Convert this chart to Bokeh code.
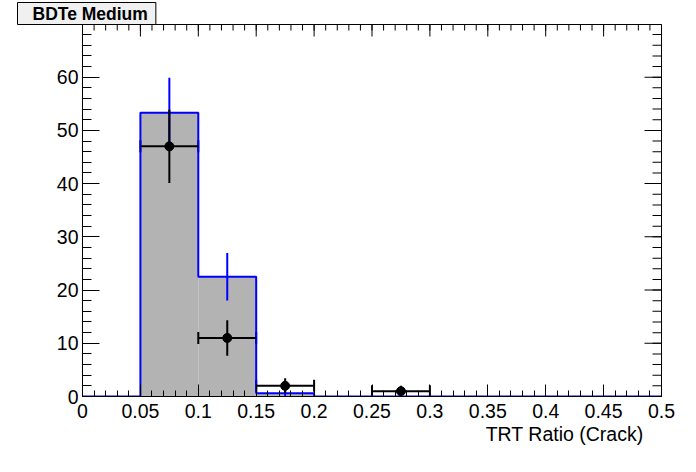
from bokeh.plotting import figure
from bokeh.models import Range1d, FixedTicker, Title
from bokeh.embed import file_html
from bokeh.resources import INLINE

# ---- data ----
bin_edges = [0.0, 0.05, 0.1, 0.15, 0.2, 0.25, 0.3, 0.35, 0.4, 0.45, 0.5]
mc_values = [0.0, 53.3, 22.5, 0.6, 0.0, 0.0, 0.0, 0.0, 0.0, 0.0]
mc_errors = [0.0, 6.6, 4.45, 0.5, 0.0, 0.0, 0.0, 0.0, 0.0, 0.0]
data_counts = [0, 47, 11, 2, 0, 1, 0, 0, 0, 0]
data_errors = [0.0, 6.86, 3.32, 1.41, 0.0, 1.0, 0.0, 0.0, 0.0, 0.0]

x_ticks = [0.0, 0.05, 0.1, 0.15, 0.2, 0.25, 0.3, 0.35, 0.4, 0.45, 0.5]
x_tick_labels = ["0", "0.05", "0.1", "0.15", "0.2", "0.25", "0.3", "0.35", "0.4", "0.45", "0.5"]
y_ticks = [0, 10, 20, 30, 40, 50, 60]
y_tick_labels = ["0", "10", "20", "30", "40", "50", "60"]
x_minor = [i / 100 for i in range(0, 51)]
y_minor = list(range(0, 71, 2))

title_text = "BDTe Medium"
x_title = "TRT Ratio (Crack)"

FONT = "Liberation Sans"
X0, X1, Y0, Y1 = 0.0, 0.5, 0.0, 69.9

p = figure(width=680, height=456,
           x_range=Range1d(X0, X1), y_range=Range1d(Y0, Y1),
           output_backend="svg", toolbar_location=None,
           min_border_left=82, min_border_right=19,
           min_border_top=23, min_border_bottom=60,
           background_fill_color="white", border_fill_color="white",
           outline_line_color="black", outline_line_width=1)
p.xgrid.visible = False
p.ygrid.visible = False


def style_axis(ax, ticks, minor, major_len, minor_len, overrides):
    ax.ticker = FixedTicker(ticks=ticks, minor_ticks=minor)
    ax.major_tick_in = major_len
    ax.major_tick_out = 0
    ax.minor_tick_in = minor_len
    ax.minor_tick_out = 0
    ax.axis_line_color = "black"
    ax.major_tick_line_color = "black"
    ax.minor_tick_line_color = "black"
    ax.major_label_text_font = FONT
    ax.major_label_text_font_size = "19.5px"
    ax.major_label_text_color = "black"
    ax.major_label_overrides = overrides


style_axis(p.xaxis[0], x_ticks, x_minor, 12, 6,
           {t: s for t, s in zip(x_ticks, x_tick_labels)})
p.xaxis[0].major_label_standoff = 7
style_axis(p.yaxis[0], y_ticks, y_minor, 17, 9,
           {t: s for t, s in zip(y_ticks, y_tick_labels)})
p.yaxis[0].major_label_standoff = 4

# ---- ticks on the top and right frame edges (clipped to the frame) ----
p.rect(x=x_ticks, y=[Y1] * len(x_ticks), width=1, height=24,
       width_units="screen", height_units="screen", fill_color="black", line_color=None)
p.rect(x=x_minor, y=[Y1] * len(x_minor), width=1, height=12,
       width_units="screen", height_units="screen", fill_color="black", line_color=None)
p.rect(x=[X1] * len(y_ticks), y=y_ticks, width=34, height=1,
       width_units="screen", height_units="screen", fill_color="black", line_color=None)
p.rect(x=[X1] * len(y_minor), y=y_minor, width=18, height=1,
       width_units="screen", height_units="screen", fill_color="black", line_color=None)

# ---- MC histogram (grey fill, blue outline) ----
p.quad(left=bin_edges[:-1], right=bin_edges[1:], bottom=0, top=mc_values,
       fill_color="#b3b3b3", line_color=None)

# end markers of the data x error bars (drawn under the outline)
nz = [i for i, c in enumerate(data_counts) if c > 0]
mk_x = [bin_edges[i] for i in nz] + [bin_edges[i + 1] for i in nz]
mk_y = [data_counts[i] for i in nz] * 2
p.rect(x=mk_x, y=mk_y, width=2, height=12, width_units="screen",
       height_units="screen", fill_color="black", line_color=None)

p.step(x=bin_edges, y=mc_values + [mc_values[-1]], mode="after",
       line_color="blue", line_width=2)

mnz = [i for i, v in enumerate(mc_values) if v > 0]
mc_c = [(bin_edges[i] + bin_edges[i + 1]) / 2 for i in mnz]
p.segment(x0=mc_c, x1=mc_c,
          y0=[mc_values[i] - mc_errors[i] for i in mnz],
          y1=[mc_values[i] + mc_errors[i] for i in mnz],
          line_color="blue", line_width=2)

# ---- data points ----
d_c = [(bin_edges[i] + bin_edges[i + 1]) / 2 for i in nz]
d_y = [data_counts[i] for i in nz]
p.segment(x0=[bin_edges[i] for i in nz], x1=[bin_edges[i + 1] for i in nz],
          y0=d_y, y1=d_y, line_color="black", line_width=2)
p.segment(x0=d_c, x1=d_c,
          y0=[data_counts[i] - data_errors[i] for i in nz],
          y1=[data_counts[i] + data_errors[i] for i in nz],
          line_color="black", line_width=2)
p.scatter(x=d_c, y=d_y, size=9, marker="circle",
          fill_color="black", line_color="black")

# ---- axis title (right aligned like ROOT) ----
p.add_layout(Title(text=x_title, align="right", offset=18, standoff=0,
                   text_font=FONT, text_font_size="19.5px",
                   text_font_style="normal", text_color="black"), "below")

# ---- title box ----
p.add_layout(Title(text=title_text, align="left", offset=-65, standoff=0,
                   text_font=FONT, text_font_size="17.5px", text_font_style="bold",
                   text_color="black",
                   background_fill_color="#f0f0f0", border_line_color="black",
                   border_line_width=1,
                   padding=dict(left=15, right=8, top=1, bottom=1)), "above")

open("out.html", "w").write(file_html(p, INLINE))
